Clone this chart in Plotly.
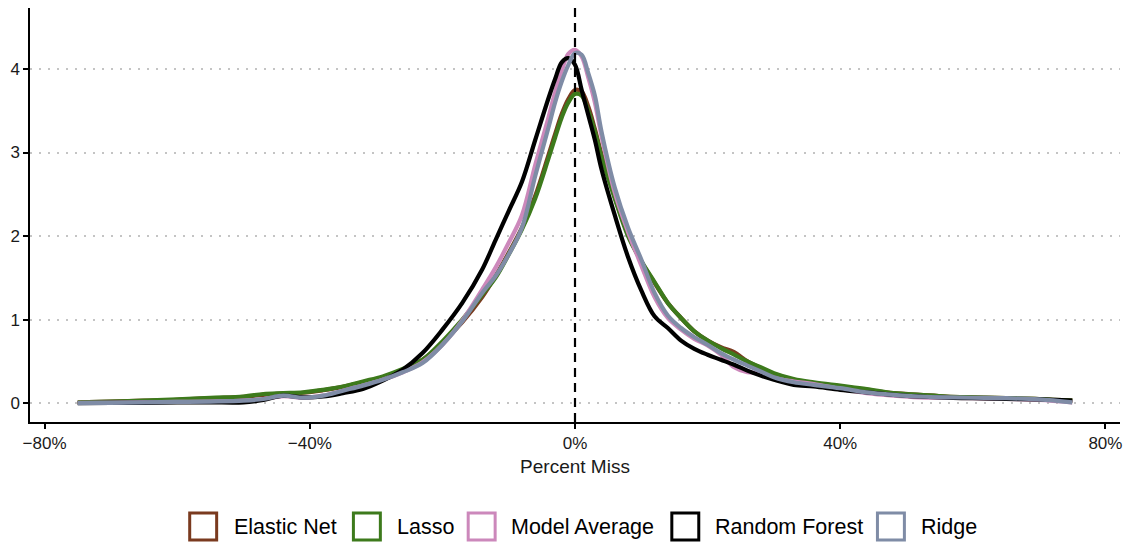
import plotly.graph_objects as go

# ---- data ----
x_pct = [-75, -70, -65, -60, -55, -50, -47, -44, -41, -38, -35, -32, -29, -26, -23, -20, -17, -14, -12, -10,
         -8, -6, -4, -3, -2, -1, 0, 1, 2, 3, 4, 6, 8, 10, 12, 14, 16, 18, 20, 22, 24, 26, 28, 30, 33, 36,
         40, 44, 48, 52, 56, 60, 65, 70, 75]

elastic_net = [0.01, 0.02, 0.03, 0.04, 0.06, 0.075, 0.10, 0.115, 0.125, 0.155, 0.195, 0.25, 0.31, 0.40, 0.52,
               0.72, 0.97, 1.27, 1.52, 1.80, 2.10, 2.48, 2.97, 3.22, 3.46, 3.64, 3.75, 3.73, 3.55, 3.28, 2.98,
               2.47, 2.02, 1.70, 1.44, 1.20, 1.02, 0.86, 0.75, 0.67, 0.61, 0.50, 0.42, 0.35, 0.28, 0.24,
               0.20, 0.16, 0.12, 0.10, 0.08, 0.07, 0.06, 0.05, 0.03]

lasso = [0.01, 0.02, 0.03, 0.045, 0.065, 0.08, 0.11, 0.12, 0.13, 0.16, 0.20, 0.26, 0.32, 0.41, 0.52,
         0.74, 1.00, 1.30, 1.50, 1.78, 2.08, 2.45, 2.93, 3.18, 3.42, 3.60, 3.70, 3.68, 3.50, 3.25, 2.95,
         2.45, 2.00, 1.70, 1.45, 1.20, 1.02, 0.86, 0.75, 0.66, 0.58, 0.50, 0.43, 0.36, 0.29, 0.25,
         0.21, 0.17, 0.12, 0.10, 0.08, 0.07, 0.06, 0.05, 0.03]

model_average = [0.005, 0.008, 0.012, 0.016, 0.02, 0.03, 0.05, 0.085, 0.065, 0.09, 0.15, 0.21, 0.28, 0.37, 0.49,
                 0.70, 0.99, 1.36, 1.62, 1.92, 2.25, 2.85, 3.42, 3.72, 3.98, 4.18, 4.23, 4.15, 3.90, 3.60, 3.20,
                 2.52, 2.05, 1.65, 1.27, 1.02, 0.88, 0.77, 0.69, 0.58, 0.43, 0.37, 0.36, 0.30, 0.26, 0.23,
                 0.17, 0.12, 0.09, 0.07, 0.065, 0.06, 0.05, 0.04, 0.01]

random_forest = [0.0, 0.005, 0.005, 0.01, 0.01, 0.01, 0.04, 0.09, 0.07, 0.08, 0.12, 0.17, 0.27, 0.40, 0.60,
                 0.88, 1.20, 1.60, 1.95, 2.30, 2.65, 3.15, 3.65, 3.88, 4.08, 4.13, 4.05, 3.75, 3.45, 3.15, 2.80,
                 2.25, 1.75, 1.35, 1.04, 0.90, 0.75, 0.65, 0.58, 0.52, 0.46, 0.39, 0.33, 0.28, 0.22, 0.20,
                 0.16, 0.13, 0.10, 0.08, 0.065, 0.06, 0.05, 0.045, 0.03]

ridge = [0.0, 0.005, 0.01, 0.015, 0.02, 0.03, 0.05, 0.09, 0.065, 0.09, 0.15, 0.21, 0.28, 0.37, 0.48,
         0.70, 0.98, 1.32, 1.52, 1.78, 2.10, 2.72, 3.30, 3.60, 3.85, 4.05, 4.19, 4.17, 3.95, 3.68, 3.25,
         2.58, 2.10, 1.72, 1.32, 1.05, 0.90, 0.79, 0.70, 0.60, 0.52, 0.45, 0.38, 0.31, 0.25, 0.22,
         0.18, 0.13, 0.10, 0.08, 0.07, 0.065, 0.06, 0.045, 0.01]

series_names = ["Elastic Net", "Lasso", "Model Average", "Random Forest", "Ridge"]
series_values = [elastic_net, lasso, model_average, random_forest, ridge]
series_colors = ["#7A3A1F", "#3D7A1C", "#CC88BB", "#000000", "#7F8CA6"]

x_tick_vals = [-80, -40, 0, 40, 80]
x_tick_text = ["\u221280%", "\u221240%", "0%", "40%", "80%"]
y_tick_vals = [0, 1, 2, 3, 4]

FONT = "Liberation Sans, Arial, Helvetica, sans-serif"

fig = go.Figure()
for name, vals, col in zip(series_names, series_values, series_colors):
    fig.add_trace(go.Scatter(
        x=x_pct, y=vals, mode="lines", name=name,
        line=dict(color=col, width=4.2, shape="spline", smoothing=1.0),
        showlegend=False, hoverinfo="skip"))

# vertical dashed reference line at 0
fig.add_shape(type="line", xref="x", yref="paper", x0=0, x1=0, y0=0, y1=1,
              line=dict(color="black", width=2.2, dash="9px,6px"), layer="above")

# ---- manual legend (square outline keys) ----
L, R, T, B = 30, 5, 8, 122
W, H = 1127, 544
pw, ph = W - L - R, H - T - B
def px2x(px):
    return (px - L) / pw
def py2y(py):
    return (H - B - py) / ph

key_centers = [203.5, 367.5, 482.5, 686.5, 892.5]
text_left = [232, 396, 510, 714, 921]
key_cy = 526.5
half = 13.5
for name, col, cx, tx in zip(series_names, series_colors, key_centers, text_left):
    fig.add_shape(type="rect", xref="paper", yref="paper",
                  x0=px2x(cx - half), x1=px2x(cx + half),
                  y0=py2y(key_cy + half), y1=py2y(key_cy - half),
                  line=dict(color=col, width=3), fillcolor="white")
    fig.add_annotation(xref="paper", yref="paper", x=px2x(tx), y=py2y(key_cy),
                       text=name, showarrow=False, xanchor="left", yanchor="middle",
                       font=dict(family=FONT, size=21.5, color="black"))

fig.update_layout(
    width=W, height=H,
    margin=dict(l=L, r=R, t=T, b=B),
    paper_bgcolor="white", plot_bgcolor="white",
    font=dict(family=FONT, color="#1a1a1a"),
    xaxis=dict(range=[-82.2, 82.2], tickvals=x_tick_vals, ticktext=x_tick_text,
               showgrid=False, zeroline=False, showline=True, linecolor="black", linewidth=1.5,
               ticks="outside", ticklen=5, tickwidth=1.5, tickcolor="black",
               tickfont=dict(size=17, color="#1a1a1a", family=FONT),
               title=dict(text="Percent Miss", font=dict(size=19, color="#1a1a1a", family=FONT), standoff=8)),
    yaxis=dict(range=[-0.225, 4.73], tickvals=y_tick_vals,
               showgrid=True, gridcolor="#C4C4C4", gridwidth=1.8, griddash="2px,7px",
               zeroline=False, showline=True, linecolor="black", linewidth=1.5,
               ticks="outside", ticklen=5, tickwidth=1.5, tickcolor="black",
               tickfont=dict(size=17, color="#1a1a1a", family=FONT)),
    showlegend=False,
)

fig.write_html("out.html")
